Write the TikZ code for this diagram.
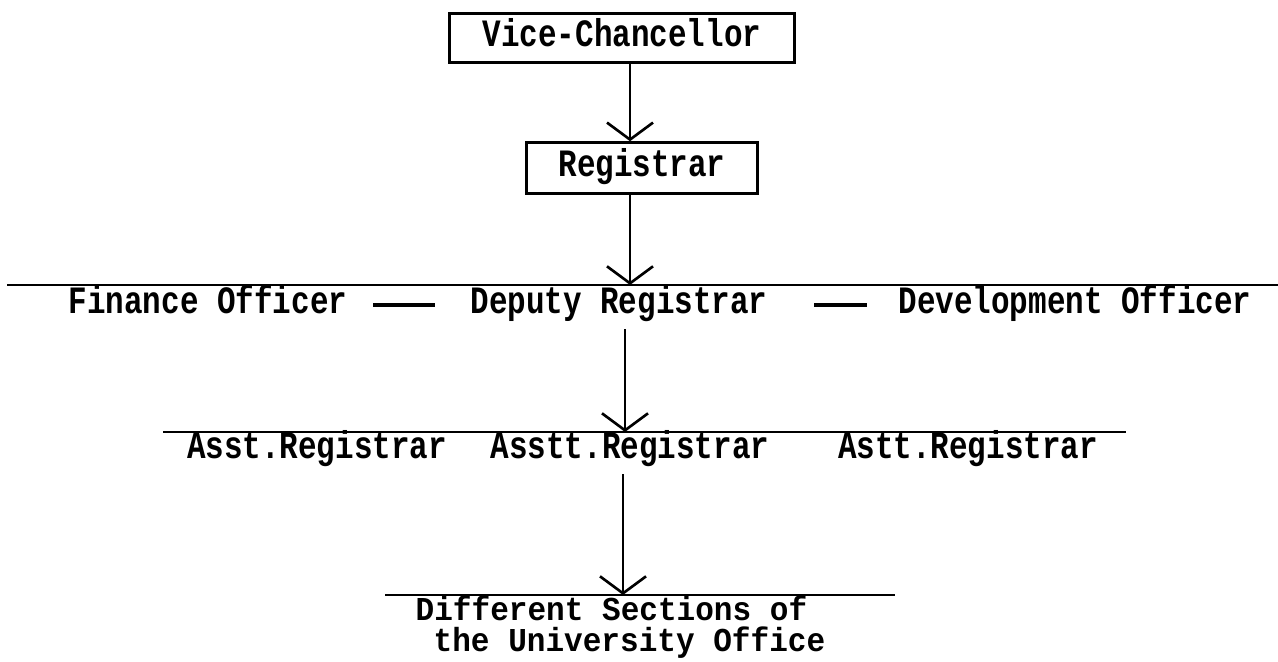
\documentclass[tikz,border=0pt]{standalone}
\usepackage{fontspec}
\newfontfamily\typer[FakeStretch=0.8]{Liberation Mono}
\newfontfamily\typersm[FakeStretch=0.93]{Liberation Mono}
\usetikzlibrary{arrows.meta}

\begin{document}
\begin{tikzpicture}[x=0.01cm, y=-0.01cm,
  typed/.style={font=\typer\bfseries\fontsize{11}{13}\selectfont, inner sep=0pt},
  post/.style={typed, text height=1.6ex, text depth=.45ex},
  boxed/.style={post, draw, line width=0.7pt},
  note/.style={font=\typersm\bfseries\fontsize{9.5}{11}\selectfont, inner sep=0pt, anchor=base west},
  link/.style={line width=0.75pt},
  down/.style={link, -{Straight Barb[length=1.7mm, width=4.6mm, line width=0.75pt]}}]
\useasboundingbox (0,0) rectangle (1278,662);

% top of the chain
\node[boxed, minimum width=3.45cm, minimum height=0.49cm] (vc) at (622,38) {Vice-Chancellor};
\node[boxed, minimum width=2.31cm, minimum height=0.51cm] (reg) at (642,168) {Registrar};
\coordinate (j1) at (630,285);
\draw[down](vc.south -| j1) -- (reg.north -| j1);

% deputy level
\coordinate (bar1l) at (7,285);
\coordinate (bar1r) at (1278,285);
\draw[link](bar1l) -- (bar1r);
\draw[down](reg.south -| j1) -- (j1);
\node[post] (fin) at (208,305) {Finance Officer};
\node[post] (dep) at (619,305) {Deputy Registrar};
\node[post] (dev) at (1075,305) {Development Officer};
\draw[line width=1.2pt, shorten <=0.25cm, shorten >=0.35cm](fin) -- (dep);
\draw[line width=1pt, shorten <=0.46cm, shorten >=0.31cm](dep) -- (dev);

% assistant level
\coordinate (j2) at (625,432);
\coordinate (bar2l) at (163,432);
\coordinate (bar2r) at (1126,432);
\draw[link](bar2l) -- (bar2r);
\draw[down, shorten <=0.08cm](dep.south -| j2) -- (j2);
\node[post] (asst) at (317,450) {Asst.Registrar};
\node[post] (asstt) at (630,450) {Asstt.Registrar};
\node[post] (astt) at (968,450) {Astt.Registrar};

% sections
\coordinate (j3) at (623,595);
\coordinate (bar3l) at (385,595);
\coordinate (bar3r) at (895,595);
\draw[link](bar3l) -- (bar3r);
\draw[down, shorten <=0.08cm](asstt.south -| j3) -- (j3);
\node[note] (sec) at (415,621) {Different Sections of};
\node[note] (secb) at (433,652) {the University Office};
\end{tikzpicture}
\end{document}
